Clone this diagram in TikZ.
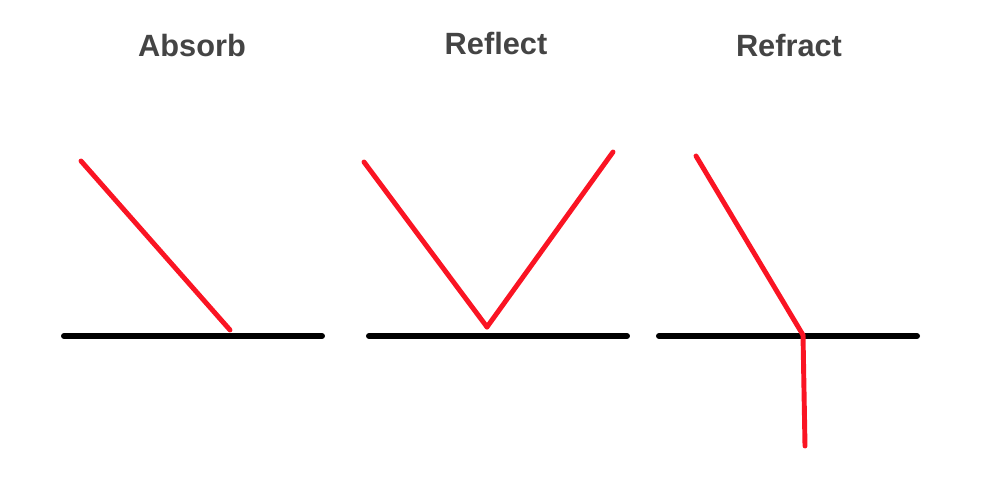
\documentclass[tikz,border=0pt]{standalone}
\usepackage{fontspec}
\setmainfont{Liberation Sans}
\usepackage{tikz}
\usepackage{tkz-euclide}
\definecolor{raycol}{RGB}{250,20,35}
\definecolor{titlecol}{RGB}{68,68,68}

\begin{document}
\begin{tikzpicture}[x=0.02cm,y=-0.02cm,line cap=round,
    title/.style={font=\fontsize{17.5}{20}\selectfont\bfseries,text=titlecol}]
      \useasboundingbox (0,0) rectangle (993,496);

      % 1. 三個介面
      \tkzDefPoint(64,336){A_1}   \tkzDefPoint(322,336){A_2}
      \tkzDefPoint(369,336){B_1}  \tkzDefPoint(627,336){B_2}
      \tkzDefPoint(659,336){C_1}  \tkzDefPoint(917,336){C_2}

      % 2. 吸收：入射光停在介面上
      \tkzDefPoint(81,161){P}
      \tkzDefPoint(230,330){Q}

      % 3. 反射：入射點 R 與反射光 S
      \tkzDefPoint(364,162){T}
      \tkzDefPoint(487,327){R}
      \tkzDefPoint(613,152){S}

      % 4. 折射：入射點 O 與折射光 X
      \tkzDefPoint(696,156){U}
      \tkzDefPoint(803,335){O}
      \tkzDefPoint(805,446){X}

      \node[title] (absorb) at (192,46) {Absorb};
      \node[title] (reflect) at (496,44) {Reflect};
      \node[title] (refract) at (789,46) {Refract};

      \tkzDrawSegments[black, line width=3.4pt](A_1,A_2 B_1,B_2 C_1,C_2)
      \tkzDrawSegments[raycol, line width=2.8pt](P,Q T,R R,S U,O O,X)
    \end{tikzpicture}
\end{document}
